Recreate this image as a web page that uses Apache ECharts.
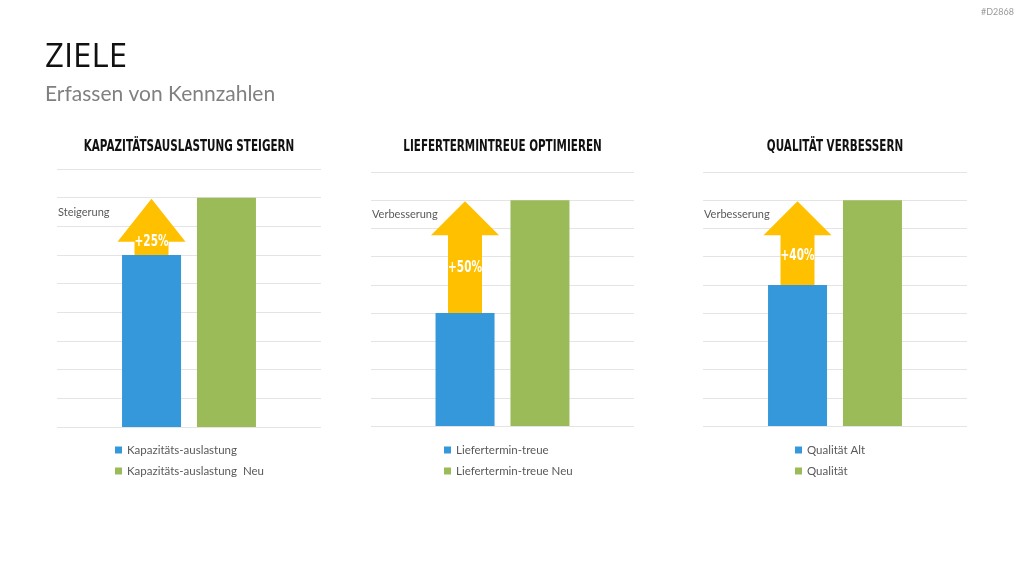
<!DOCTYPE html>
<html>
<head>
<meta charset="utf-8">
<script src="https://cdn.jsdelivr.net/npm/echarts@6/dist/echarts.min.js"></script>
<style>
  html, body { margin: 0; padding: 0; background: #fff; }
  #main { width: 1024px; height: 576px; }
</style>
</head>
<body>
<div id="main"></div>
<script>
// Daten
var chartTitles = ['KAPAZITÄTSAUSLASTUNG STEIGERN', 'LIEFERTERMINTREUE OPTIMIEREN', 'QUALITÄT VERBESSERN'];
var oldNames = ['Kapazitäts-auslastung', 'Liefertermin-treue', 'Qualität Alt'];
var newNames = ['Kapazitäts-auslastung  Neu', 'Liefertermin-treue Neu', 'Qualität'];
var oldValues = [6, 4, 5];
var newValues = [8, 8, 8];
var gainLabels = ['+25%', '+50%', '+40%'];
var noteLabels = ['Steigerung', 'Verbesserung', 'Verbesserung'];
var axisMax = 9;

// Layout
var grids = [
    {left: 57, top: 169, width: 264, height: 258},
    {left: 371, top: 172, width: 263, height: 254},
    {left: 703, top: 172, width: 264, height: 254}
];
var headHeights = [43, 34, 34];
var legendLeft = [115, 444, 795];
var narrow = '"DejaVu Sans", sans-serif';
var body = 'Lato, "Open Sans", sans-serif';

var myChart = echarts.init(document.getElementById('main'));

function arrowItem(i) {
    return function (params, api) {
        var lo = api.coord([api.value(0), api.value(1)]);
        var hi = api.coord([api.value(0), api.value(2)]);
        var cx = lo[0] - 37.5;
        var tipY = hi[1] + 1;
        var neckY = tipY + headHeights[i];
        var pts = [
            [cx - 17, lo[1]], [cx - 17, neckY], [cx - 34, neckY], [cx, tipY],
            [cx + 34, neckY], [cx + 17, neckY], [cx + 17, lo[1]]
        ];
        var ly = i === 0 ? neckY : neckY + (lo[1] - neckY) * 0.42;
        return {
            type: 'group',
            children: [
                {type: 'polygon', shape: {points: pts}, style: {fill: '#FFC000'}},
                {
                    type: 'text', x: cx, y: ly, scaleX: 0.7,
                    style: {
                        text: gainLabels[i], fill: '#fff', fontSize: 15, fontWeight: 'bold',
                        fontFamily: narrow, align: 'center', verticalAlign: 'middle'
                    }
                }
            ]
        };
    };
}

var option = {
    animation: false,
    backgroundColor: '#fff',
    grid: [], xAxis: [], yAxis: [], legend: [], series: [],
    graphic: [
        {type: 'text', left: 45, top: 41, style: {text: 'ZIELE', fill: '#111', fontSize: 33, fontFamily: '"Open Sans", sans-serif'}},
        {type: 'text', left: 45, top: 84, style: {text: 'Erfassen von Kennzahlen', fill: '#808080', fontSize: 21, fontFamily: body}},
        {type: 'text', right: 10, top: 8, style: {text: '#D2868', fill: '#9a9a9a', fontSize: 9, fontFamily: body}}
    ]
};

for (var i = 0; i < 3; i++) {
    var g = grids[i];
    option.grid.push(g);
    option.xAxis.push({
        type: 'category', gridIndex: i, data: [''],
        axisLine: {show: false}, axisTick: {show: false}, axisLabel: {show: false}
    });
    option.yAxis.push({
        type: 'value', gridIndex: i, min: 0, max: axisMax, interval: 1,
        axisLine: {show: false}, axisTick: {show: false}, axisLabel: {show: false},
        splitLine: {lineStyle: {color: '#e4e4e4', width: 1}}
    });
    option.series.push({
        name: oldNames[i], type: 'bar', xAxisIndex: i, yAxisIndex: i,
        barWidth: 59, barGap: '27%', itemStyle: {color: '#3498DB'}, data: [oldValues[i]]
    });
    option.series.push({
        name: newNames[i], type: 'bar', xAxisIndex: i, yAxisIndex: i,
        barWidth: 59, barGap: '27%', itemStyle: {color: '#9BBB59'}, data: [newValues[i]]
    });
    option.series.push({
        type: 'custom', xAxisIndex: i, yAxisIndex: i, z: 5,
        renderItem: arrowItem(i),
        encode: {x: 0, y: [1, 2]},
        data: [[0, oldValues[i], newValues[i]]]
    });
    option.legend.push({
        data: [oldNames[i], newNames[i]], orient: 'vertical',
        left: legendLeft[i], top: 444, padding: 0, itemGap: 9,
        icon: 'rect', itemWidth: 7, itemHeight: 7,
        textStyle: {color: '#595959', fontSize: 11.5, fontFamily: body}
    });
    option.graphic.push({
        type: 'text', x: g.left + g.width / 2, y: 147, scaleX: 0.65,
        style: {
            text: chartTitles[i], fill: '#111', fontSize: 16, fontWeight: 'bold',
            fontFamily: narrow, align: 'center', verticalAlign: 'middle'
        }
    });
    option.graphic.push({
        type: 'text', x: g.left + 1, y: i === 0 ? 212 : 214,
        style: {
            text: noteLabels[i], fill: '#595959', fontSize: 11,
            fontFamily: body, align: 'left', verticalAlign: 'middle'
        }
    });
}

myChart.setOption(option);
</script>
</body>
</html>
